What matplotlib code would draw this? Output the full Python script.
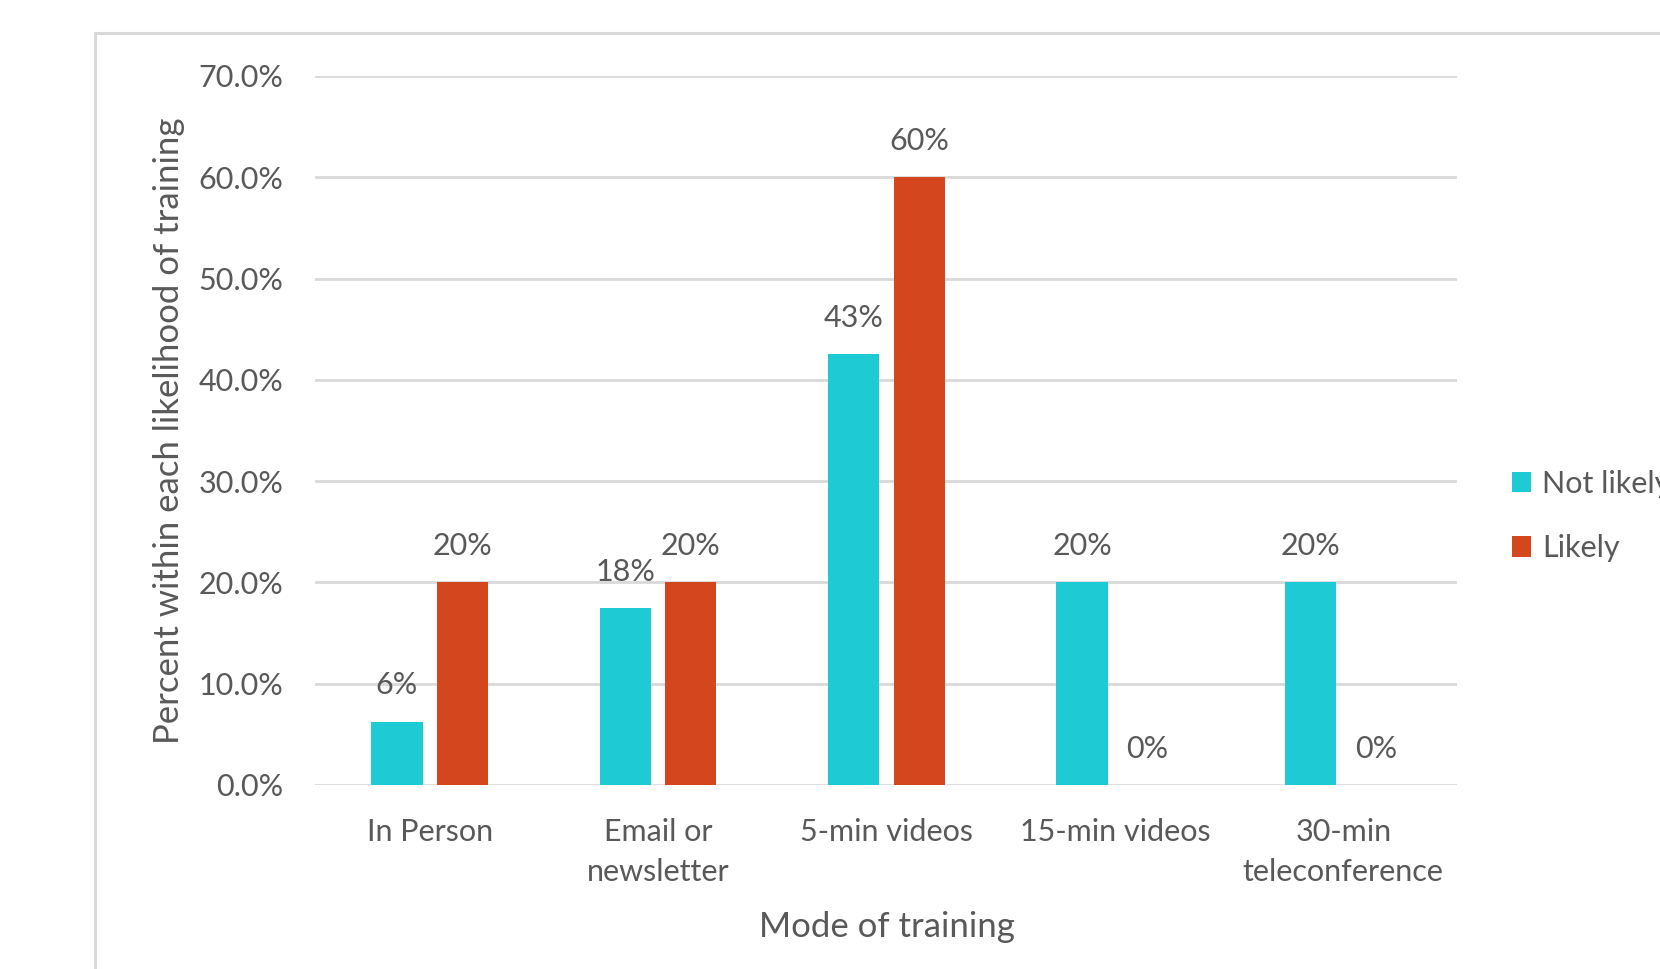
import matplotlib
matplotlib.use("Agg")
import matplotlib.pyplot as plt
from matplotlib.patches import Rectangle
import numpy as np

categories = ["In Person", "Email or\nnewsletter", "5-min videos", "15-min videos", "30-min\nteleconference"]
not_likely = [0.0625, 0.175, 0.425, 0.20, 0.20]
likely = [0.20, 0.20, 0.60, 0.0, 0.0]
series_names = ["Not likely", "Likely"]
ytick_vals = [0.0, 0.1, 0.2, 0.3, 0.4, 0.5, 0.6, 0.7]

CYAN = "#1ECBD4"
ORANGE = "#D3461E"
TEXT = "#595959"
GRID = "#D9D9D9"

plt.rcParams['font.family'] = ['Lato', 'DejaVu Sans']

fig = plt.figure(figsize=(16.6, 9.69), dpi=100)
ax = fig.add_axes([0.19, 0.19, 0.688, 0.7316])

# chart area border (runs off the right and bottom of the picture)
fig.patches.append(Rectangle((95 / 1660, -0.05), 1.2, 1 - 33 / 969 + 0.05,
                             transform=fig.transFigure, fill=False,
                             edgecolor=GRID, linewidth=2.2))

x = np.arange(len(categories))
w = 0.225
off = 0.1435
b1 = ax.bar(x - off, not_likely, w, color=CYAN, label=series_names[0], zorder=3)
b2 = ax.bar(x + off, likely, w, color=ORANGE, label=series_names[1], zorder=3)

for bars, vals in ((b1, not_likely), (b2, likely)):
    for rect, v in zip(bars, vals):
        # excel style rounding (half up)
        ax.annotate(f"{int(v * 100 + 0.5)}%", (rect.get_x() + rect.get_width() / 2, v),
                    xytext=(0, 26), textcoords="offset points",
                    ha="center", va="center", fontsize=22, color=TEXT)

ax.set_xlim(-0.5, 4.5)
ax.set_ylim(0, 0.7)
ax.set_yticks(ytick_vals)
ax.set_yticklabels([f"{v * 100:.1f}%" for v in ytick_vals])
ax.set_xticks(x)
ax.set_xticklabels(categories, linespacing=1.55)
ax.tick_params(axis="both", length=0, colors=TEXT, labelsize=22)
ax.tick_params(axis="y", pad=23)
ax.tick_params(axis="x", pad=23.5)
ax.grid(axis="y", color=GRID, linewidth=2, zorder=0)
for s in ax.spines.values():
    s.set_visible(False)

ax.set_xlabel("Mode of training", fontsize=25, color=TEXT)
ax.set_ylabel("Percent within each likelihood of training", fontsize=25, color=TEXT)
ax.xaxis.set_label_coords(0.5, -0.178)
ax.yaxis.set_label_coords(-0.114, 0.5)

fig.legend(loc="upper left", bbox_to_anchor=(1484 / 1660, 1 - 442 / 969), frameon=False,
           fontsize=22, labelcolor=TEXT, handlelength=0.65, handleheight=0.65,
           handletextpad=0.35, labelspacing=1.2)

fig.savefig("out.png", dpi=100)
